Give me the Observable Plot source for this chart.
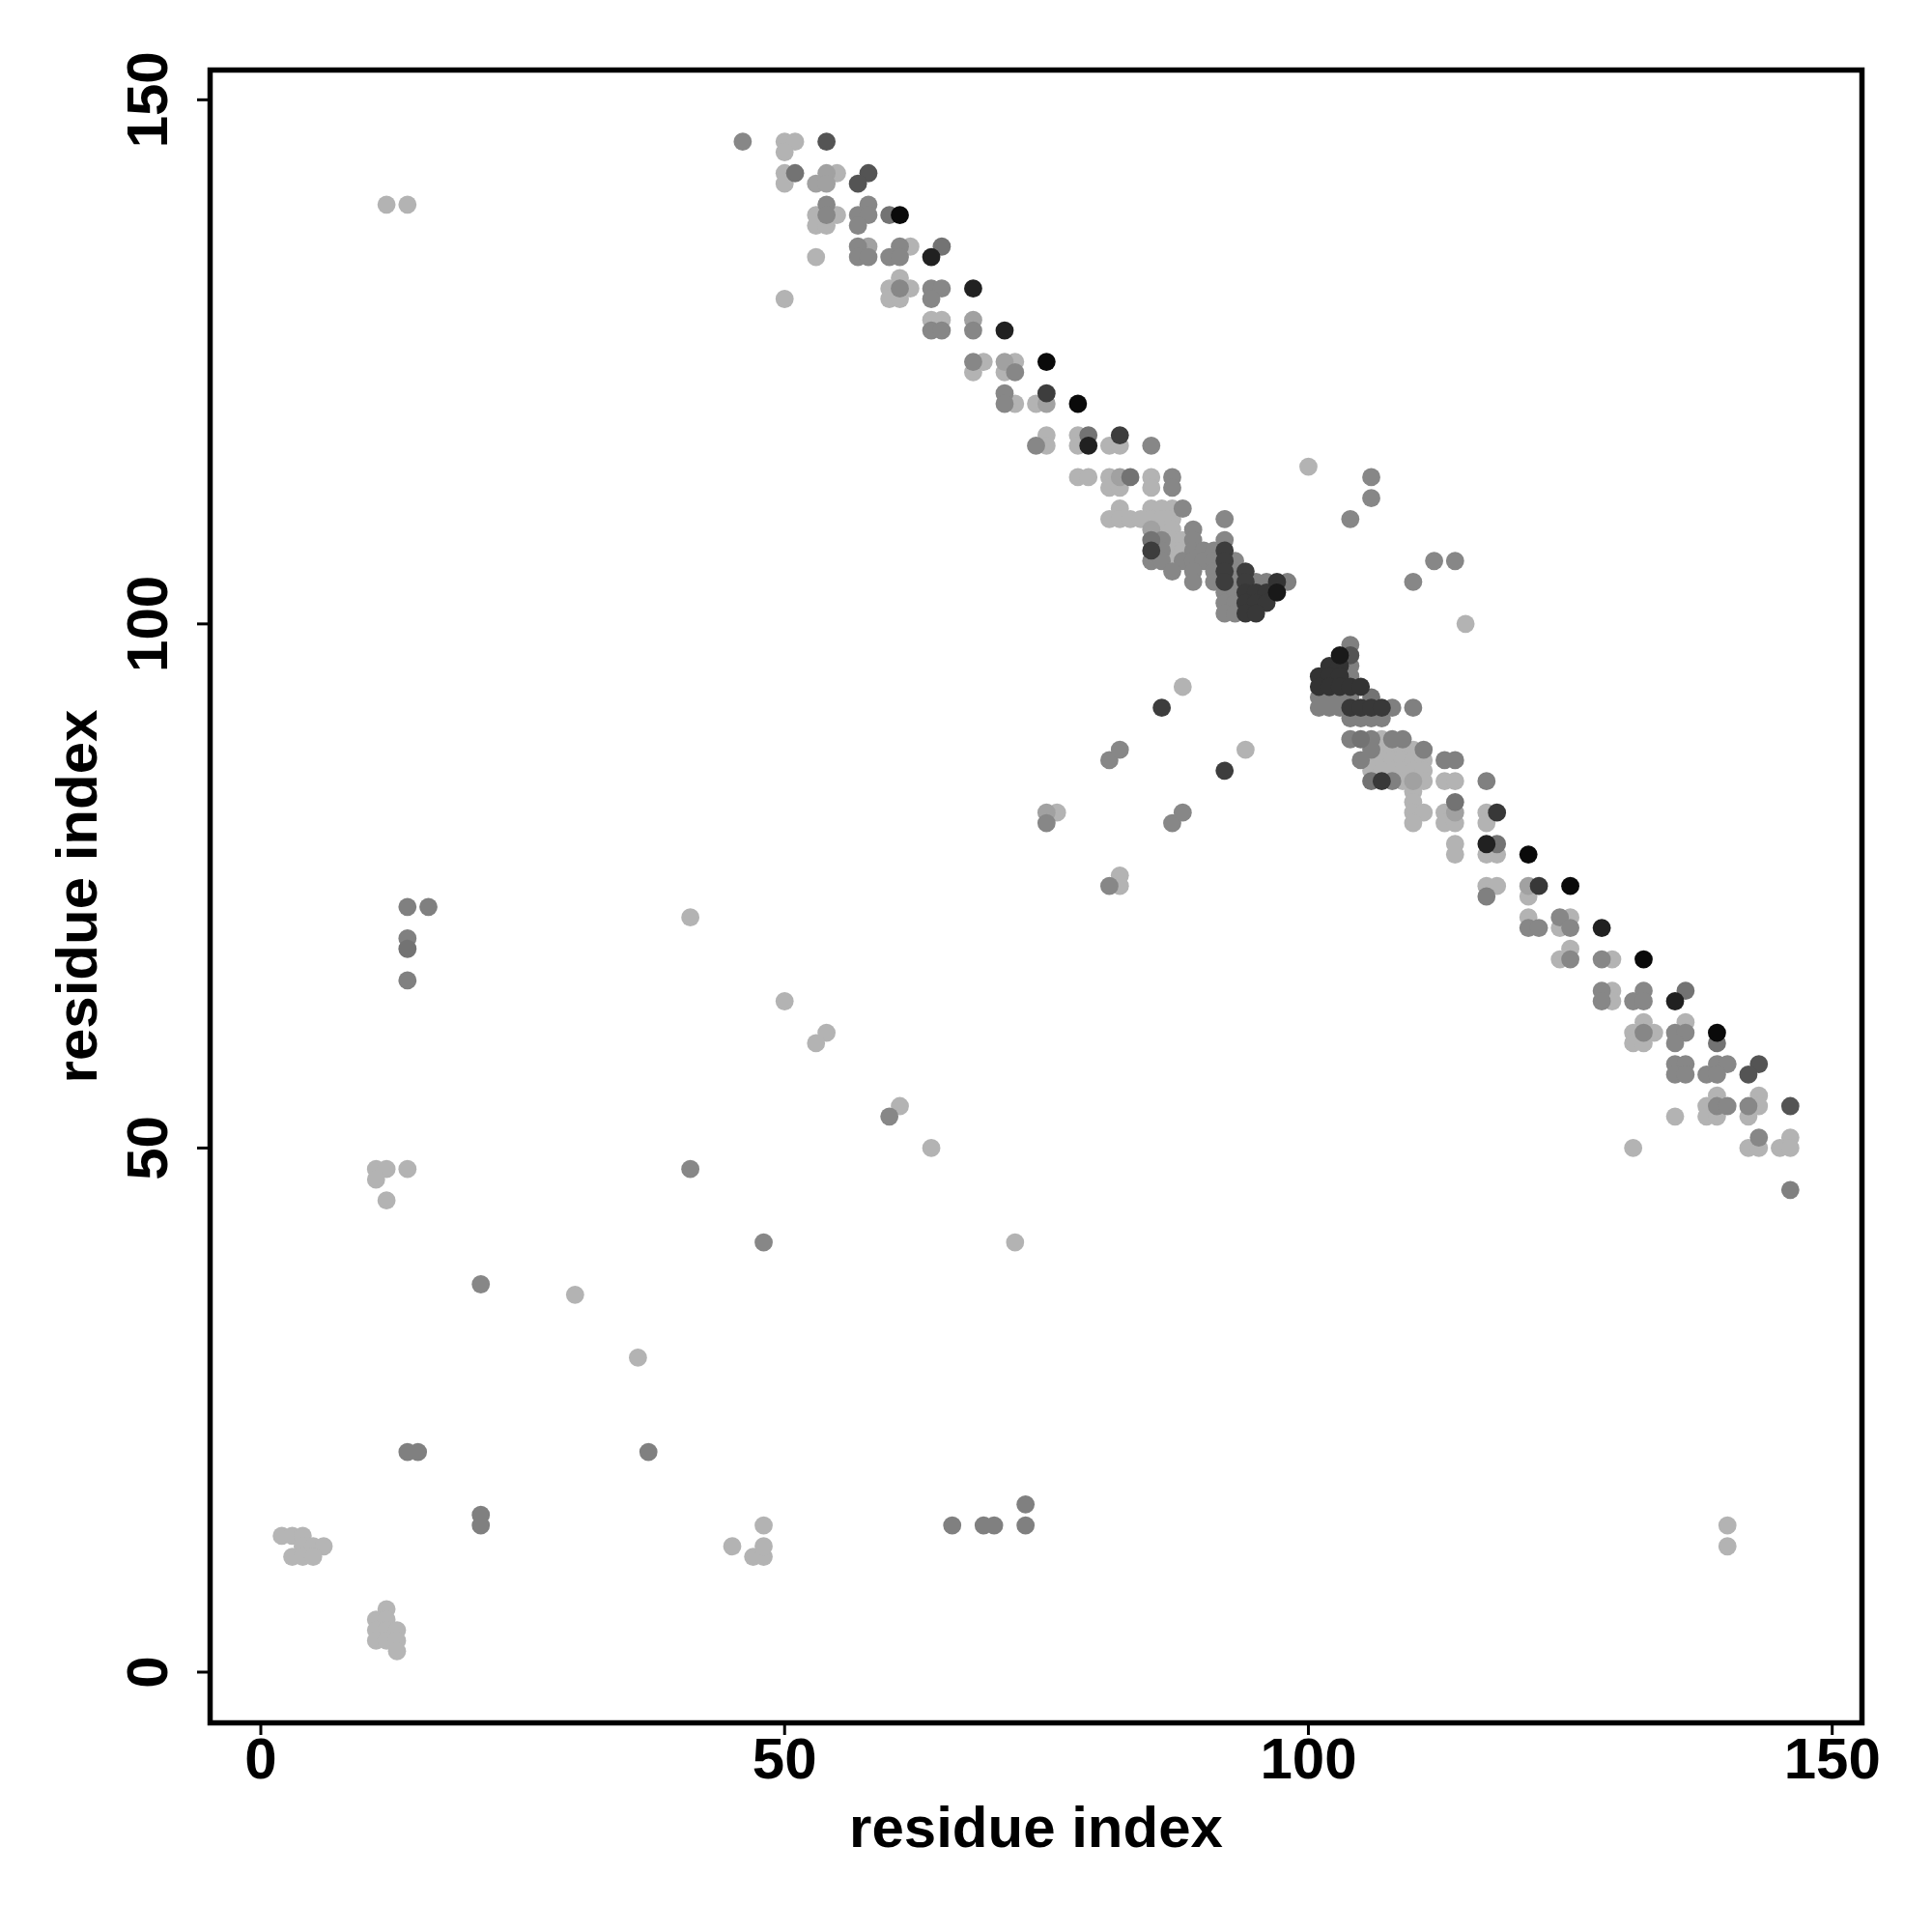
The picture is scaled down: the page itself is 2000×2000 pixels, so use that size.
<!DOCTYPE html>
<html><head><meta charset="utf-8">
<script src="https://cdn.jsdelivr.net/npm/d3@7"></script>
<script src="https://cdn.jsdelivr.net/npm/@observablehq/plot@0.6"></script>
<style>html,body{margin:0;padding:0;background:#fff;}</style>
</head><body><div id="chart"></div>
<script>
const xTicks = [0, 50, 100, 150];
const yTicks = [0, 50, 100, 150];
const xTitle = "residue index";
const yTitle = "residue index";
const residueDomain = [-4.84, 152.84];

// isolated contacts (residue i, residue j, probability)
const scatterI = [
  46, 12, 14, 50, 100, 106, 106, 104, 110, 112, 114, 115,
  88, 86, 94, 92, 81, 82, 75, 76, 75, 87, 88, 81, 82, 82,
  41, 14, 16, 14, 14, 14, 50, 54, 53, 60, 61, 64, 41,
  11, 12, 14, 11, 12, 48, 72, 21, 30, 36, 14, 15, 37, 21, 21,
  45, 47, 48, 48, 48, 66, 69, 70, 73, 73, 140, 140,
  2, 3, 4, 4, 5, 6, 3, 4, 5,
  12, 11, 12, 11, 12, 13, 11, 12, 13, 13
];
const scatterJ = [
  146, 140, 140, 131, 115, 114, 112, 110, 104, 106, 106, 100,
  94, 92, 88, 86, 87, 88, 82, 82, 81, 81, 82, 75, 76, 75,
  72, 73, 73, 70, 69, 66, 64, 61, 60, 53, 54, 50, 48,
  48, 48, 48, 47, 45, 41, 41, 37, 36, 30, 21, 21, 21, 15, 14,
  12, 11, 11, 12, 14, 14, 14, 14, 16, 14, 14, 12,
  13, 13, 13, 12, 12, 12, 11, 11, 11,
  6, 5, 5, 4, 4, 4, 3, 3, 3, 2
];
const scatterP = [
  .47, .30, .30, .30, .30, .47, .47, .47, .47, .47, .47, .30,
  .30, .76, .30, .76, .47, .47, .37, .30, .47, .47, .47, .47, .30, .30,
  .30, .50, .50, .50, .55, .50, .30, .30, .30, .47, .30, .30, .47,
  .30, .30, .30, .30, .30, .47, .30, .47, .30, .30, .50, .50, .50, .50, .50,
  .30, .30, .30, .30, .30, .50, .50, .50, .50, .50, .30, .30,
  .29, .29, .29, .29, .29, .29, .29, .29, .29,
  .29, .29, .29, .29, .29, .29, .29, .29, .29, .29
];

// contacts along the anti-diagonal bands, grouped by residue j
const bandJ = [
  146, 145, 143, 142, 140, 139, 138, 136, 135, 133, 132, 131, 129, 128,
  125, 124, 122, 121, 118, 117, 114, 113, 111, 110, 109, 108, 107, 106,
  105, 104, 103, 102, 101,
  98, 97, 96, 95, 94, 93, 92, 91, 89, 88, 87, 86, 85, 84, 83, 82, 81,
  79, 78, 75, 74, 72, 71, 69, 68, 65, 64, 62, 61, 60, 58, 57, 55, 54,
  53, 51, 50, 46
];
const bandI = [
  [50, 51, 54], [50], [50, 51, 54, 55, 58], [50, 53, 54, 57], [54, 58],
  [53, 54, 55, 57, 58, 60, 61], [53, 54, 57], [57, 58, 61, 62, 65],
  [53, 57, 58, 60, 61, 64], [61], [60, 61, 62, 64, 65, 68], [60, 61, 64],
  [64, 65, 68], [64, 65, 68, 71],
  [68, 69, 71, 72, 75], [68, 71, 72], [71, 75], [71, 72, 74, 75, 78],
  [75, 78, 79, 82], [74, 75, 78, 79, 81, 82, 85], [78, 79, 81, 82, 83, 85, 87],
  [81, 82, 85, 87], [82, 85, 86, 87, 88], [81, 82, 83, 84, 85, 86, 87, 92],
  [85, 86, 87, 89], [85, 86, 87, 88, 89, 92], [85, 86, 87, 88, 89, 90, 91, 92],
  [85, 86, 87, 88, 89, 90, 91, 92, 93],
  [87, 89, 91, 92, 93, 94], [89, 91, 92, 93, 94, 95, 96, 97, 98],
  [92, 93, 94, 95, 96, 97], [92, 93, 94, 95, 96], [92, 93, 94, 95],
  [104], [103, 104], [102, 103, 104], [101, 102, 103, 104], [101, 102, 103, 104, 105],
  [101, 102, 103, 104, 106], [101, 102, 103, 104, 105, 106, 107, 108, 110],
  [104, 105, 106, 107], [104, 105, 106, 107, 108, 109], [106, 107, 108, 109, 110, 111],
  [105, 106, 107, 108, 109, 110, 111, 113, 114], [106, 107, 108, 109, 110, 111],
  [106, 107, 108, 109, 110, 111, 113, 114, 117], [110], [110, 114],
  [110, 111, 113, 114, 117, 118], [110, 113, 114, 117],
  [114, 117, 118], [114, 117, 118, 121], [117, 118, 121, 122, 125], [117, 121],
  [121, 124, 125], [121, 122, 124, 125, 128], [125], [124, 125, 128, 129, 132],
  [128, 129, 132, 136], [128, 129, 131, 132, 135], [132, 136],
  [131, 132, 133, 135, 136, 139], [131, 132, 135, 139], [135, 136, 139, 140, 143],
  [135, 136, 138, 139, 142], [139, 143], [138, 139, 140, 142, 143, 146],
  [135, 138, 139, 142], [143, 146], [131, 142, 143, 145, 146], [146]
];
const bandP = [
  [.30, .30, .67], [.30], [.30, .55, .37, .30, .67], [.30, .37, .37, .67], [.47, .47],
  [.30, .47, .30, .47, .47, .55, .96], [.30, .30, .47], [.47, .37, .47, .30, .55],
  [.30, .47, .47, .47, .47, .87], [.30], [.30, .47, .30, .47, .47, .87], [.30, .30, .47],
  [.30, .30, .37], [.47, .47, .47, .87],
  [.47, .30, .37, .30, .96], [.30, .30, .47], [.47, .76], [.47, .30, .30, .37, .96],
  [.30, .30, .55, .76], [.47, .30, .30, .87, .30, .30, .47], [.30, .30, .30, .37, .55, .30, .47],
  [.30, .30, .30, .47], [.30, .30, .30, .30, .47], [.30, .30, .30, .30, .30, .30, .30, .47],
  [.37, .30, .30, .47], [.55, .47, .30, .30, .47, .47], [.76, .47, .30, .30, .47, .47, .47, .76],
  [.47, .47, .30, .47, .47, .47, .47, .76, .47],
  [.47, .47, .47, .76, .47, .76], [.47, .47, .76, .47, .76, .50, .50, .80, .50],
  [.47, .47, .78, .78, .78, .90], [.47, .47, .78, .78, .78], [.47, .47, .78, .78],
  [.50], [.90, .67], [.80, .80, .50], [.80, .80, .80, .50], [.80, .80, .80, .80, .80],
  [.50, .50, .50, .50, .55], [.50, .50, .50, .78, .78, .78, .78, .50, .50],
  [.50, .50, .50, .50], [.50, .55, .50, .30, .50, .50], [.50, .30, .30, .30, .30, .50],
  [.50, .30, .30, .30, .30, .30, .30, .50, .50], [.30, .30, .30, .30, .30, .30],
  [.55, .78, .50, .30, .37, .30, .30, .30, .50], [.30], [.30, .55],
  [.30, .30, .30, .37, .30, .78], [.30, .30, .30, .30],
  [.30, .87, .55], [.30, .30, .30, .96], [.30, .30, .37, .78, .96], [.50, .30],
  [.30, .47, .30], [.47, .47, .30, .47, .87], [.30], [.30, .47, .47, .30, .96],
  [.47, .30, .47, .55], [.47, .30, .47, .47, .87], [.30, .30],
  [.30, .47, .30, .47, .47, .96], [.30, .30, .47, .55], [.47, .47, .47, .47, .67],
  [.47, .47, .47, .47, .67], [.30, .30], [.30, .47, .47, .47, .30, .67],
  [.30, .30, .30, .30], [.47, .30], [.30, .30, .30, .30, .30], [.50]
];

const contacts = [];
scatterI.forEach((i, k) => contacts.push({i, j: scatterJ[k], p: scatterP[k]}));
bandJ.forEach((j, r) => bandI[r].forEach((i, k) => contacts.push({i, j, p: bandP[r][k]})));
contacts.sort((a, b) => a.p - b.p);

const font = "'Liberation Sans', Arial, Helvetica, sans-serif";
const chart = Plot.plot({
  width: 2000, height: 2000,
  marginLeft: 217, marginRight: 73, marginTop: 72, marginBottom: 217,
  x: {domain: residueDomain},
  y: {domain: residueDomain},
  color: {type: "linear", domain: [0, 1], interpolate: t => { const g = Math.round(255 * (1 - t)); return `rgb(${g},${g},${g})`; }},
  style: {fontFamily: font, fontWeight: "bold", background: "white"},
  marks: [
    Plot.dot(contacts, {x: "i", y: "j", r: 9.4, fill: "p"}),
    Plot.frame({stroke: "black", strokeWidth: 5.5}),
    Plot.axisX(xTicks, {tickSize: 13, tickPadding: 2, strokeWidth: 3, fontSize: 60, fontWeight: "bold", label: null}),
    Plot.axisY(yTicks, {tickSize: 13, tickPadding: 32, tickRotate: -90, strokeWidth: 3, fontSize: 60, fontWeight: "bold", label: null}),
    Plot.text([xTitle], {text: d => d, frameAnchor: "bottom", dy: 128, lineAnchor: "bottom", fontSize: 60, fontWeight: "bold"}),
    Plot.text([yTitle], {text: d => d, frameAnchor: "left", dx: -118, rotate: -90, textAnchor: "middle", lineAnchor: "bottom", fontSize: 60, fontWeight: "bold"})
  ]
});
document.getElementById("chart").append(chart);
</script>
</body></html>
